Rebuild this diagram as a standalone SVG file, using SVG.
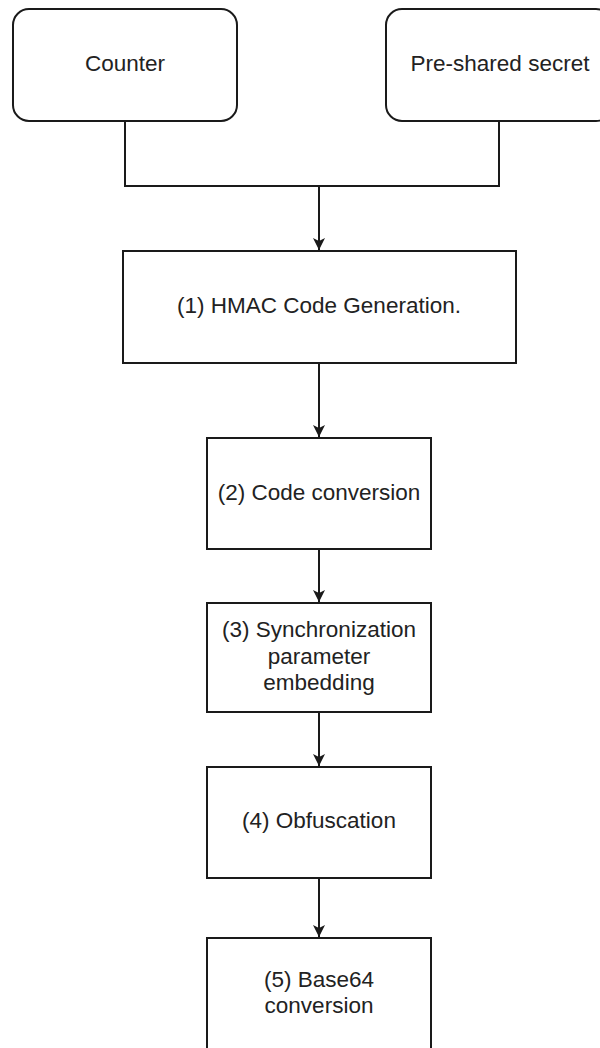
<svg xmlns="http://www.w3.org/2000/svg" width="600" height="1048" viewBox="0 0 600 1048">
<style>
.box{fill:#ffffff;stroke:#1a1a1a;stroke-width:2}
.lbl{font-family:"Liberation Sans",Arial,sans-serif;font-size:22.5px;fill:#222222;text-anchor:middle}
.conn{fill:none;stroke:#1a1a1a;stroke-width:2}
</style>
<defs>
<marker id="arr" viewBox="0 0 10 10" refX="10" refY="5" markerWidth="6" markerHeight="6" markerUnits="strokeWidth" orient="auto">
<path d="M0,0 L10,5 L0,10 L2.5,5 Z" fill="#1a1a1a"/>
</marker>
</defs>
<rect width="600" height="1048" fill="#ffffff"/>
<g id="connectors">
<path class="conn" d="M125,121 V186 H499 V121"/>
<path class="conn" d="M319,186 V250" marker-end="url(#arr)"/>
<path class="conn" d="M319,363 V437" marker-end="url(#arr)"/>
<path class="conn" d="M319,549 V602" marker-end="url(#arr)"/>
<path class="conn" d="M319,712 V766" marker-end="url(#arr)"/>
<path class="conn" d="M319,878 V937" marker-end="url(#arr)"/>
</g>
<g id="counter">
<rect class="box" x="13" y="9" width="224" height="112" rx="16" ry="16"/>
<text class="lbl" x="125" y="71">Counter</text>
</g>
<g id="secret">
<rect class="box" x="386" y="9" width="226" height="112" rx="16" ry="16"/>
<text class="lbl" x="500" y="71">Pre-shared secret</text>
</g>
<g id="hmac">
<rect class="box" x="123" y="251" width="393" height="112"/>
<text class="lbl" x="319" y="313">(1) HMAC Code Generation.</text>
</g>
<g id="conversion">
<rect class="box" x="207" y="438" width="224" height="111"/>
<text class="lbl" x="319" y="500">(2) Code conversion</text>
</g>
<g id="sync">
<rect class="box" x="207" y="603" width="224" height="109"/>
<text class="lbl" x="319" y="637">(3)  Synchronization</text>
<text class="lbl" x="319" y="664">parameter</text>
<text class="lbl" x="319" y="690">embedding</text>
</g>
<g id="obfuscation">
<rect class="box" x="207" y="767" width="224" height="111"/>
<text class="lbl" x="319" y="828">(4) Obfuscation</text>
</g>
<g id="base64">
<rect class="box" x="207" y="938" width="224" height="120"/>
<text class="lbl" x="319" y="987">(5) Base64</text>
<text class="lbl" x="319" y="1013">conversion</text>
</g>
</svg>
